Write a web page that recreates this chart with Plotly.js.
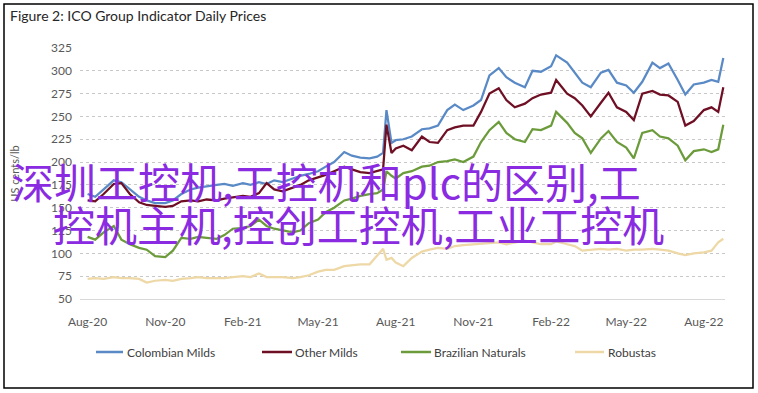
<!DOCTYPE html>
<html>
<head>
<meta charset="utf-8">
<script src="https://cdn.plot.ly/plotly-3.0.1.min.js"></script>
<style>
html,body{margin:0;padding:0;background:#fff;}
#chart{width:758px;height:393px;}
</style>
</head>
<body>
<div id="chart"></div>
<script>
// ---- data ----
const dates = [
  '2020-08-01','2020-08-10','2020-08-20',
  '2020-09-01','2020-09-10','2020-09-20',
  '2020-10-01','2020-10-10','2020-10-20',
  '2020-11-01','2020-11-10','2020-11-20',
  '2020-12-01','2020-12-10','2020-12-20',
  '2021-01-01','2021-01-10','2021-01-20',
  '2021-02-01','2021-02-10','2021-02-20',
  '2021-03-01','2021-03-10','2021-03-20',
  '2021-04-01','2021-04-10','2021-04-20',
  '2021-05-01','2021-05-10','2021-05-20',
  '2021-06-01','2021-06-10','2021-06-20',
  '2021-07-01','2021-07-10','2021-07-17','2021-07-21','2021-07-27',
  '2021-08-01','2021-08-10','2021-08-20',
  '2021-09-01','2021-09-10','2021-09-20',
  '2021-10-01','2021-10-10','2021-10-20',
  '2021-11-01','2021-11-10','2021-11-20',
  '2021-12-01','2021-12-10','2021-12-20',
  '2022-01-01','2022-01-10','2022-01-20',
  '2022-02-01','2022-02-07','2022-02-20',
  '2022-03-01','2022-03-10','2022-03-20',
  '2022-04-01','2022-04-10','2022-04-20',
  '2022-05-01','2022-05-10','2022-05-20',
  '2022-06-01','2022-06-10','2022-06-20',
  '2022-07-01','2022-07-10','2022-07-20',
  '2022-08-01','2022-08-10','2022-08-18','2022-08-24'
];
const colombianMilds = [
  165,162,170, 180,178,170, 162,158,155, 155,158,165, 170,172,173,
  175,176,174, 177,175,178, 176,180,178, 182,185,187, 190,195,200,
  211,207,205, 204,206,210,257,221, 224,225,228, 236,237,240,
  257,263,257, 262,268,295, 303,293,287, 282,300,299, 305,317,309,
  298,287,282, 298,301,287, 284,276,288, 309,303,308, 290,274,285,
  287,290,288,314
];
const otherMilds = [
  158,157,165, 176,177,165, 156,153,152, 151,152,157, 158,157,159,
  158,160,161, 163,162,166, 177,170,168, 172,175,180, 183,186,190,
  195,192,189, 188,190,192,241,210, 215,218,213, 228,222,221,
  235,238,240, 240,255,275, 281,268,260, 264,270,274, 276,290,275,
  270,262,250, 265,276,260, 255,246,275, 278,274,273, 266,240,245,
  257,260,255,282
];
const brazilianNaturals = [
  118,115,123, 130,115,110, 106,104,97, 96,103,117, 116,118,117,
  116,120,127, 128,130,137, 130,127,125, 123,125,133, 137,145,150,
  158,160,163, 165,166,170,190,185, 182,188,190, 195,196,200,
  201,203,200, 206,222,235, 244,232,225, 222,236,235, 240,255,243,
  232,226,210, 226,234,222, 216,204,232, 235,228,226, 218,202,212,
  214,211,214,241
];
const robustas = [
  72,73,72, 74,73,73, 72,68,70, 71,70,72, 73,74,73,
  73,73,74, 75,74,78, 74,74,74, 73,74,76, 80,82,82,
  86,87,88, 88,97,105,93,95, 90,86,95, 102,104,106,
  105,108,109, 110,110,111, 112,110,112, 114,112,110, 110,113,110,
  108,103,104, 105,104,105, 103,104,104, 105,104,103, 100,98,100,
  101,103,112,116
];
const seriesNames = ['Colombian Milds','Other Milds','Brazilian Naturals','Robustas'];
const xTickVals = ['2020-08-01','2020-11-01','2021-02-01','2021-05-01','2021-08-01','2021-11-01','2022-02-01','2022-05-01','2022-08-01'];
const xTickText = ['Aug-20','Nov-20','Feb-21','May-21','Aug-21','Nov-21','Feb-22','May-22','Aug-22'];
const yTickVals = [50,75,100,125,150,175,200,225,250,275,300,325];
const chartTitle = 'Figure 2: ICO Group Indicator Daily Prices';
const yTitle = 'US cents/lb';
const overlayLines = ['深圳工控机,工控机和plc的区别,工', '控机主机,控创工控机,工业工控机'];

// ---- drawing ----
const seriesValues = [colombianMilds, otherMilds, brazilianNaturals, robustas];
const colors = ['#5a8ac6', '#6f0f24', '#6b9b3a', '#edd8a6'];

const W = 758, H = 393;
const L = 80, R = 33, T = 48, B = 94;
const PW = W - L - R, PH = H - T - B;
const px = x => (x - L) / PW;
const py = y => (H - B - y) / PH;

const traces = seriesValues.map((vals, i) => ({
  type: 'scatter', mode: 'lines', name: seriesNames[i],
  x: dates, y: vals,
  line: {color: colors[i], width: 2.25},
  showlegend: false, hoverinfo: 'skip'
}));

const legendLine = [[96,123],[262,292],[401,431],[575,604]];
const legendText = [125,293,432,606];
const legY = 352;

const shapes = [{
  type: 'rect', xref: 'paper', yref: 'paper',
  x0: px(4), x1: px(753), y0: py(388), y1: py(4),
  line: {color: '#000', width: 1.5}
}];
const annotations = [];
seriesNames.forEach((n, i) => {
  shapes.push({type: 'line', xref: 'paper', yref: 'paper',
    x0: px(legendLine[i][0]), x1: px(legendLine[i][1]), y0: py(legY), y1: py(legY),
    line: {color: colors[i], width: 2.5}});
  annotations.push({xref: 'paper', yref: 'paper', x: px(legendText[i]), y: py(legY),
    xanchor: 'left', yanchor: 'middle', showarrow: false, text: n,
    font: {family: 'Lato, sans-serif', size: 12, color: '#404040'}});
});
annotations.push({xref: 'paper', yref: 'paper', x: px(10), y: py(180),
  xanchor: 'left', yanchor: 'middle', showarrow: false, text: overlayLines[0],
  font: {family: '"Noto Sans CJK SC", sans-serif', size: 42, color: '#8a2be2'}});
annotations.push({xref: 'paper', yref: 'paper', x: px(51), y: py(223),
  xanchor: 'left', yanchor: 'middle', showarrow: false, text: overlayLines[1],
  font: {family: '"Noto Sans CJK SC", sans-serif', size: 42, color: '#8a2be2'}});

const layout = {
  width: W, height: H,
  margin: {l: L, r: R, t: T, b: B, pad: 0},
  paper_bgcolor: '#fff', plot_bgcolor: '#fff',
  showlegend: false,
  title: {text: chartTitle, x: 10 / W, xref: 'container', xanchor: 'left',
    y: 1 - 16 / H, yref: 'container', yanchor: 'middle',
    font: {family: 'Lato, sans-serif', size: 14, color: '#262626'}},
  xaxis: {type: 'date', range: ['2020-07-23', '2022-08-26'],
    tickmode: 'array', tickvals: xTickVals, ticktext: xTickText,
    showgrid: false, zeroline: false, showline: true, linecolor: '#d9d9d9', linewidth: 1,
    ticks: '', ticklabelstandoff: 12,
    tickfont: {family: 'Lato, sans-serif', size: 12, color: '#595959'}},
  yaxis: {range: [50, 325], tickmode: 'array', tickvals: yTickVals,
    showgrid: true, gridcolor: '#c8c8c8', griddash: 'dot', gridwidth: 1,
    zeroline: false, showline: false, ticks: '', ticklabelstandoff: 7,
    tickfont: {family: 'Lato, sans-serif', size: 12, color: '#595959'},
    title: {text: yTitle, standoff: 29, font: {family: 'Lato, sans-serif', size: 11, color: '#595959'}}},
  shapes: shapes,
  annotations: annotations
};

Plotly.newPlot('chart', traces, layout, {staticPlot: true, displayModeBar: false});
</script>
</body>
</html>
